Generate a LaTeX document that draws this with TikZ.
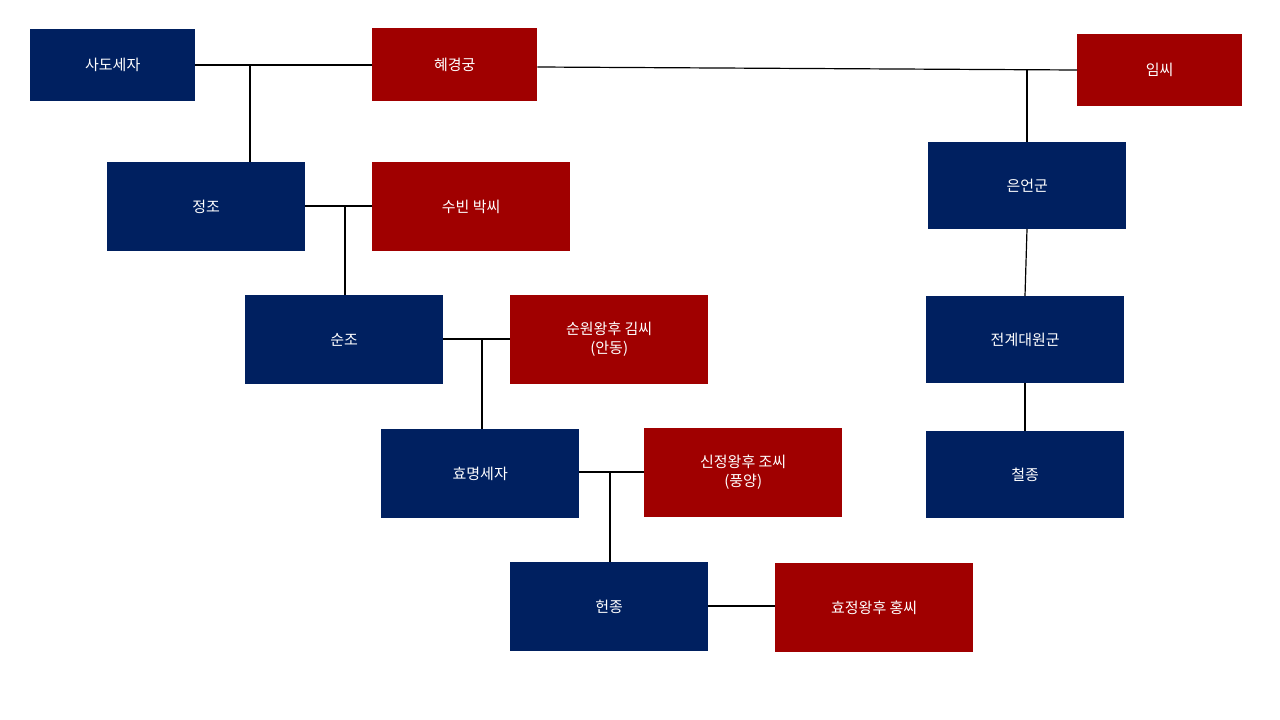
\documentclass[tikz,border=0pt]{standalone}
\usepackage{fontspec}
\setmainfont{Noto Sans CJK KR}
\definecolor{nv}{HTML}{002060}
\definecolor{rd}{HTML}{A00000}
\begin{document}
\begin{tikzpicture}[x=1pt,y=-1pt,
 bx/.style={anchor=north west,inner sep=0pt,text=white,font=\fontsize{15}{18}\selectfont,align=center},
 ln/.style={line width=1.2pt}]
\useasboundingbox (0,0) rectangle (1280,720);
\newcommand\bxx[6]{\node[bx,fill=#6,minimum width=#4-#2,minimum height=#5-#3] (#1) at (#2,#3) {};}
\bxx{sado}{30}{29}{195}{101}{nv}
\bxx{hye}{372}{28}{537}{101}{rd}
\bxx{im}{1077}{34}{1242}{106}{rd}
\bxx{jj}{107}{162}{305}{251}{nv}
\bxx{sub}{372}{162}{570}{251}{rd}
\bxx{eun}{928}{142}{1126}{229}{nv}
\bxx{sj}{245}{295}{443}{384}{nv}
\bxx{swh}{510}{295}{708}{384}{rd}
\bxx{jg}{926}{296}{1124}{383}{nv}
\bxx{hm}{381}{429}{579}{518}{nv}
\bxx{sjw}{644}{428}{842}{517}{rd}
\bxx{cj}{926}{431}{1124}{518}{nv}
\bxx{hj}{510}{562}{708}{651}{nv}
\bxx{hjw}{775}{563}{973}{652}{rd}
\foreach \n/\t in {sado/사도세자,hye/혜경궁,im/임씨,jj/정조,sub/수빈 박씨,eun/은언군,sj/순조,swh/{순원왕후 김씨\\(안동)},jg/전계대원군,hm/효명세자,sjw/{신정왕후 조씨\\(풍양)},cj/철종,hj/헌종,hjw/효정왕후 홍씨}
  \node[text=white,font=\fontsize{15}{19}\selectfont,align=center] at (\n.center) {\t};
\coordinate (j1) at (250,65); \coordinate (j2) at (1027,70);
\coordinate (j3) at (345,206); \coordinate (j4) at (482,339);
\coordinate (j5) at (610,472);
\draw[ln] (sado.east |- j1) -- (hye.west |- j1);
\draw[ln] (j1) -- (j1 |- jj.north);
\draw[ln] (hye.east |- 0,67) -- (im.west |- j2);
\draw[ln] (j2) -- (j2 |- eun.north);
\draw[ln] (jj.east |- j3) -- (sub.west |- j3);
\draw[ln] (j3) -- (j3 |- sj.north);
\draw[ln] (sj.east |- j4) -- (swh.west |- j4);
\draw[ln] (j4) -- (j4 |- hm.north);
\draw[ln] (hm.east |- j5) -- (sjw.west |- j5);
\draw[ln] (j5) -- (j5 |- hj.north);
\draw[ln] (hj.east |- 0,606) -- (hjw.west |- 0,606);
\draw[ln] (1027,229) -- (1025,296);
\draw[ln] (jg.south -| 1025,0) -- (cj.north -| 1025,0);
\end{tikzpicture}
\end{document}
